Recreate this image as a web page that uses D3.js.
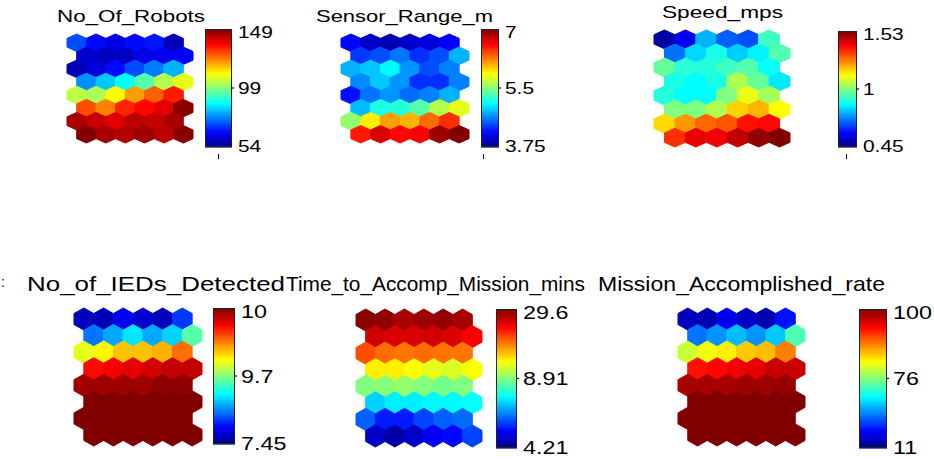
<!DOCTYPE html>
<html><head><meta charset="utf-8">
<script src="https://cdn.jsdelivr.net/npm/d3@7"></script>
<style>html,body{margin:0;padding:0;background:#fff;}svg{display:block;}text{font-family:"Liberation Sans",Arial,sans-serif;fill:#000;}</style>
</head><body><svg id="chart" width="934" height="459"></svg>
<script>
// ---- data (rows top to bottom, 6 units per row, 8 rows) ----
const titles = ["No_Of_Robots","Sensor_Range_m","Speed_mps","No_of_IEDs_Detected","Time_to_Accomp_Mission_mins","Mission_Accomplished_rate"];
const tickLabels = [["54","99","149"],["3.75","5.5","7"],["0.45","1","1.53"],["7.45","9.7","10"],["4.21","8.91","29.6"],["11","76","100"]];
const tickValues = [[54,99,149],[3.75,5.5,7],[0.45,1,1.53],[7.45,9.7,10],[4.21,8.91,29.6],[11,76,100]];

const noOfRobots = [
  72,66,63,66,67,59,
  61,60,60,63,64,65,
  59,62,66,72,76,81,
  78,83,88,95,104,109,
  105,103,111,121,127,134,
  129,124,133,136,139,148,
  145,142,139,143,142,145,
  149,145,144,146,143,148];
const sensorRange = [
  4.2,4.0,3.93,4.0,4.07,4.17,
  4.38,4.45,4.59,4.35,4.45,4.8,
  4.8,4.87,5.05,4.7,4.45,4.63,
  4.66,4.87,4.7,4.35,4.35,4.63,
  4.24,4.59,4.7,4.56,4.63,4.8,
  4.84,5.15,5.19,5.36,5.65,5.8,
  5.56,5.92,6.16,6.1,6.31,6.49,
  6.55,6.73,6.61,6.64,6.91,7.0];
const speedMps = [
  0.49,0.57,0.78,0.69,0.67,0.93,
  0.71,0.82,0.89,0.81,0.85,0.95,
  0.97,0.91,0.90,0.93,0.95,0.87,
  0.89,0.86,0.89,1.05,0.97,0.84,
  0.90,0.86,0.86,1.0,1.11,1.04,
  1.0,1.0,1.05,1.18,1.21,1.13,
  1.17,1.24,1.29,1.31,1.38,1.39,
  1.35,1.42,1.41,1.46,1.51,1.53];
const iedsDetected = [
  7.72,7.68,7.95,7.81,7.72,8.26,
  8.53,8.76,9.03,8.76,8.94,9.52,
  9.76,9.78,9.81,9.81,9.82,9.86,
  9.92,9.93,9.94,9.95,9.96,9.96,
  9.98,9.98,9.98,9.98,9.99,9.99,
  10,10,10,10,10,10,
  10,10,10,10,10,10,
  10,10,10,10,10,10];
const timeToAccomp = [
  29.2,28.8,27.9,28.4,28.8,27.9,
  26.3,25.9,25.9,26.3,25.9,24.6,
  21.3,20.1,19.7,20.1,19.7,19.7,
  14.7,14.7,13.9,13.05,12.6,13.9,
  8.91,9.3,9.7,8.91,8.8,8.91,
  7.31,7.59,7.59,7.69,7.69,7.78,
  6.28,5.62,5.62,6.0,6.28,6.37,
  4.87,4.59,4.87,5.34,5.43,6.0];
const missionRate = [
  18.8,17.5,25.3,20.1,17.5,29.2,
  42.2,46.1,51.3,46.1,52.6,69.5,
  79.4,81.3,82.7,84.6,85.1,88,
  93.3,93.8,94.7,95.2,96.6,96.6,
  98.1,98.1,98.1,98.6,98.6,99.0,
  100,100,100,100,100,100,
  100,100,100,100,100,100,
  100,100,100,100,100,100];
const seriesValues = [noOfRobots, sensorRange, speedMps, iedsDetected, timeToAccomp, missionRate];

// ---- layout ----
const panels = [
  {hx:[67,193], hy:[34,143], cb:{x:205,w:27,y:29,h:118}, title:{x:57,w:148,y:22,fs:17}, lab:{fs:17,sx:1.23}, stub:[218,154,159]},
  {hx:[341,469], hy:[34,143], cb:{x:481,w:18,y:29,h:118}, title:{x:316,w:177,y:22,fs:17}, lab:{fs:17,sx:1.23}, stub:[483,154,159]},
  {hx:[654,790], hy:[30,147], cb:{x:838,w:19,y:31,h:116}, title:{x:662,w:121,y:18,fs:17}, lab:{fs:17,sx:1.23}, stub:[846,154,159]},
  {hx:[74,202], hy:[308,446], cb:{x:213,w:22,y:308,h:136}, title:{x:27,w:258,y:291,fs:21}, lab:{fs:18.5,sx:1.26}},
  {hx:[356,482], hy:[309,447], cb:{x:496,w:21,y:309,h:139}, title:{x:286,w:299,y:291,fs:21}, lab:{fs:18.5,sx:1.26}},
  {hx:[678,805], hy:[308,446], cb:{x:859,w:28,y:309,h:139}, title:{x:598,w:287,y:291,fs:21}, lab:{fs:18.5,sx:1.26}}
];

function jet(t){
  t = Math.max(0, Math.min(1, t));
  const c = v => Math.round(255*Math.max(0, Math.min(1, v)));
  return d3.rgb(c(1.5-Math.abs(4*t-3)), c(1.5-Math.abs(4*t-2)), c(1.5-Math.abs(4*t-1))).formatHex();
}

const svg = d3.select("#chart");
const hexPts = [[0,-0.5],[0.5,-0.25],[0.5,0.25],[0,0.5],[-0.5,0.25],[-0.5,-0.25]];

panels.forEach((p, i) => {
  const g = svg.append("g");
  const vals = seriesValues[i];
  const tv = tickValues[i];
  const norm = d3.scaleLinear().domain(tv).range([0,0.5,1]).clamp(true);
  const x = d3.scaleLinear().domain([0,6.5]).range(p.hx);
  const y = d3.scaleLinear().domain([0,6.25]).range(p.hy);
  const cells = vals.map((v, k) => {
    const r = Math.floor(k/6), c = k%6;
    return {v, cx: 0.5 + c + (r%2 ? 0.5 : 0), cy: 0.5 + 0.75*r};
  });
  g.selectAll("path.hex").data(cells).join("path")
    .attr("class","hex")
    .attr("d", d => "M" + hexPts.map(q => [x(d.cx+q[0]), y(d.cy+q[1])].join(",")).join("L") + "Z")
    .attr("fill", d => jet(norm(d.v)))
    .attr("stroke", d => jet(norm(d.v)))
    .attr("stroke-width", 1)
    .attr("stroke-linejoin", "round");

  // colorbar
  const cbY = d3.scaleLinear().domain([0,1]).range([p.cb.y + p.cb.h, p.cb.y]);
  const levels = d3.range(64);
  g.selectAll("rect.lev").data(levels).join("rect")
    .attr("x", p.cb.x).attr("width", p.cb.w)
    .attr("y", d => cbY((d+1)/64)).attr("height", d => cbY(d/64) - cbY((d+1)/64) + 0.6)
    .attr("fill", d => jet((d+0.5)/64));
  g.append("rect").attr("x", p.cb.x+0.5).attr("y", p.cb.y+0.5).attr("width", p.cb.w-1).attr("height", p.cb.h-1)
    .attr("fill","none").attr("stroke","#222").attr("stroke-width",1);
  // ticks & labels
  const tpos = [0,0.5,1];
  g.selectAll("line.tk").data([0.5]).join("line")
    .attr("x1", p.cb.x + p.cb.w - 1).attr("x2", p.cb.x + p.cb.w + 2)
    .attr("y1", d => cbY(d)).attr("y2", d => cbY(d)).attr("stroke","#000").attr("stroke-width",1.2);
  g.selectAll("text.lab").data(tickLabels[i]).join("text")
    .attr("class","lab")
    .attr("transform", (d, j) => {
      let yy = cbY(tpos[j]);
      if (j === 2) yy += 3; if (j === 0) yy -= 1;
      return `translate(${p.cb.x + p.cb.w + 6},${yy}) scale(${p.lab.sx},1)`;
    })
    .attr("dominant-baseline","central")
    .attr("font-size", p.lab.fs)
    .text(d => d);

  // title
  g.append("text").attr("x", p.title.x).attr("y", p.title.y)
    .attr("font-size", p.title.fs)
    .attr("textLength", p.title.w).attr("lengthAdjust","spacingAndGlyphs")
    .text(titles[i]);

  if (p.stub) {
    g.append("line").attr("x1", p.stub[0]+0.5).attr("x2", p.stub[0]+0.5).attr("y1", p.stub[1]).attr("y2", p.stub[2])
      .attr("stroke","#000").attr("stroke-width",1);
  }
});
// clipped fragment of a neighbouring label at the far left of the lower row
svg.append("text").attr("x", 1).attr("y", 287).attr("font-size", 14).text(":");
</script></body></html>
